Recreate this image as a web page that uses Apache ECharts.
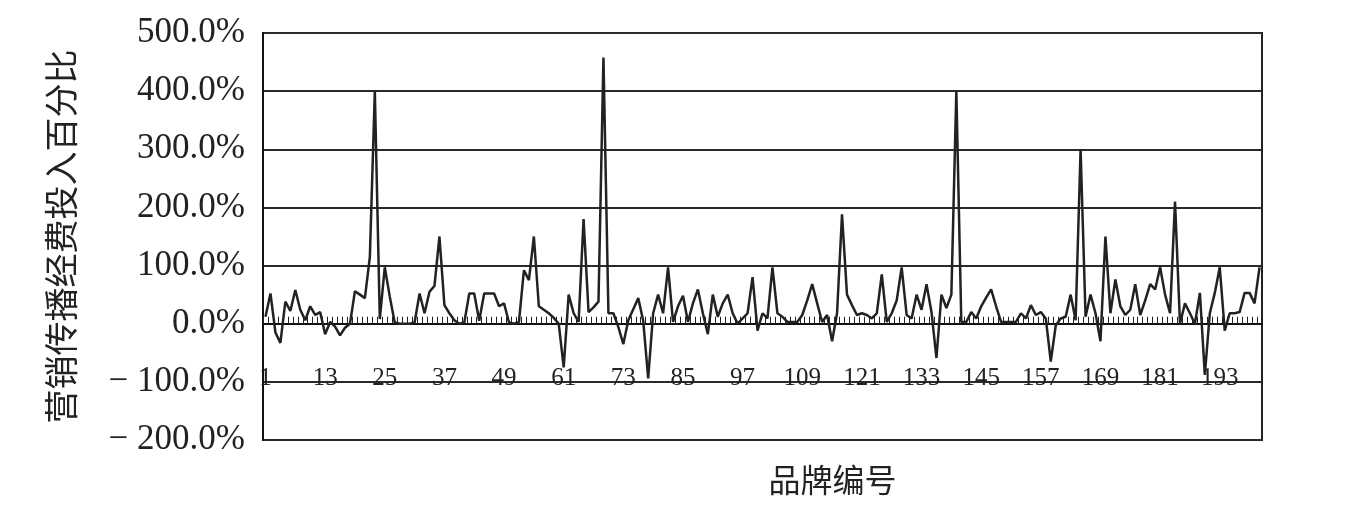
<!DOCTYPE html>
<html>
<head>
<meta charset="utf-8">
<script src="https://cdn.jsdelivr.net/npm/echarts@6/dist/echarts.min.js"></script>
<style>
html,body{margin:0;padding:0;background:#fff;}
#chart{width:1347px;height:513px;}
</style>
</head>
<body>
<div id="chart"></div>
<script>
// Brand numbers 1..201
const brandCount = 201;
const categories = Array.from({length: brandCount}, (_, i) => String(i + 1));

// Marketing communication spending percentage (%) per brand
const values = [
  12, 52, -15, -33, 38, 22, 58, 24, 6, 30,
  15, 20, -18, 3, -5, -20, -7, 0, 56, 50,
  44, 115, 400, 8, 97, 47, 2, 0, 0, 0,
  2, 52, 18, 55, 65, 150, 32, 18, 6, 0,
  2, 52, 52, 5, 52, 52, 52, 30, 35, 2,
  0, 3, 92, 75, 150, 30, 24, 18, 10, 0,
  -75, 50, 18, 3, 180, 20, 28, 38, 458, 18,
  18, -6, -35, 6, 25, 44, 5, -94, 18, 50,
  18, 97, 3, 30, 48, 3, 35, 59, 18, -18,
  50, 12, 35, 50, 18, 0, 9, 18, 80, -12,
  18, 9, 97, 18, 12, 3, 3, 3, 15, 40,
  68, 35, 3, 15, -30, 18, 188, 50, 32, 15,
  18, 15, 9, 18, 85, 3, 18, 40, 97, 15,
  9, 50, 24, 68, 20, -59, 50, 27, 50, 400,
  3, 3, 20, 9, 30, 45, 59, 30, 3, 3,
  3, 3, 18, 9, 32, 15, 20, 9, -65, -3,
  9, 12, 50, 6, 300, 12, 50, 18, -30, 150,
  18, 76, 30, 15, 24, 68, 15, 40, 68, 59,
  97, 50, 18, 210, 0, 35, 18, 0, 53, -88,
  18, 53, 97, -12, 18, 18, 20, 53, 53, 35,
  97
];

const yMin = -200, yMax = 500, yStep = 100;
const yAxisTitle = '营销传播经费投入百分比';
const xAxisTitle = '品牌编号';

const chart = echarts.init(document.getElementById('chart'));
chart.setOption({
  animation: false,
  backgroundColor: '#fff',
  grid: {
    left: 263, right: 85, top: 33, bottom: 73,
    containLabel: false,
    outerBoundsMode: 'none',
    show: true, borderColor: '#222', borderWidth: 2, backgroundColor: 'transparent'
  },
  xAxis: {
    type: 'category',
    data: categories,
    boundaryGap: true,
    axisLine: {onZero: true, lineStyle: {color: '#111', width: 2}},
    axisTick: {show: true, interval: 0, inside: true, length: 7, lineStyle: {color: '#222', width: 1}},
    axisLabel: {
      interval: 11, margin: -74,
      fontFamily: 'Liberation Serif', fontSize: 25, color: '#222'
    },
    name: xAxisTitle,
    nameLocation: 'middle',
    nameGap: 24,
    nameTextStyle: {
      fontFamily: 'Noto Sans CJK SC', fontSize: 32, color: '#222',
      padding: [0, 0, 0, 140]
    }
  },
  yAxis: {
    type: 'value',
    min: yMin, max: yMax, interval: yStep,
    axisLine: {show: true, lineStyle: {color: '#111', width: 2}},
    axisTick: {show: false},
    splitLine: {show: true, lineStyle: {color: '#2a2a2a', width: 2}},
    axisLabel: {
      margin: 18,
      fontFamily: 'Liberation Serif', fontSize: 35, color: '#222',
      formatter: v => (v < 0 ? '\u2212 ' + Math.abs(v).toFixed(1) : v.toFixed(1)) + '%'
    },
    name: yAxisTitle,
    nameLocation: 'middle',
    nameRotate: 90,
    nameGap: 185,
    nameTextStyle: {fontFamily: 'Noto Sans CJK SC', fontSize: 34, color: '#222'}
  },
  series: [{
    type: 'line',
    data: values,
    showSymbol: false,
    symbol: 'none',
    lineStyle: {color: '#222', width: 2.5},
    z: 5
  }]
});
</script>
</body>
</html>
